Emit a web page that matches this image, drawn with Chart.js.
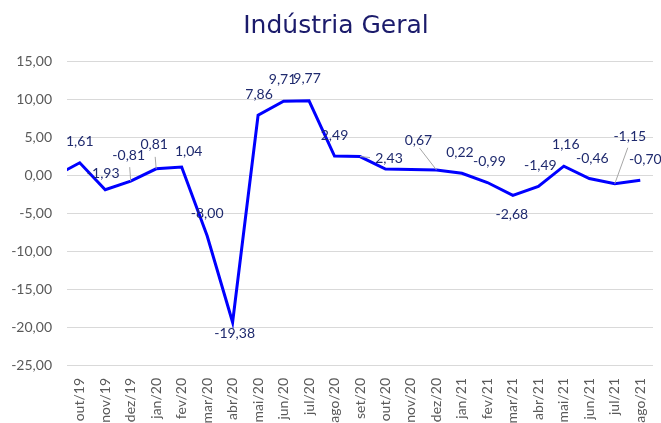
<!DOCTYPE html>
<html><head><meta charset="utf-8">
<script src="https://cdn.jsdelivr.net/npm/chart.js@4/dist/chart.umd.min.js"></script>
<style>html,body{margin:0;padding:0;background:#fff}#wrap{width:661px;height:423px}</style>
</head><body><div id="wrap"><canvas id="c" width="661" height="423"></canvas></div>
<script>
// Categories (first one lies just before the visible window, only its segment shows)
const categories = ['set/19','out/19','nov/19','dez/19','jan/20','fev/20','mar/20','abr/20','mai/20','jun/20','jul/20','ago/20','set/20','out/20','nov/20','dez/20','jan/21','fev/21','mar/21','abr/21','mai/21','jun/21','jul/21','ago/21'];
const values = [-0.20, 1.61, -1.93, -0.81, 0.81, 1.04, -8.00, -19.38, 7.86, 9.71, 9.77, 2.49, 2.43, 0.78, 0.72, 0.67, 0.22, -0.99, -2.68, -1.49, 1.16, -0.46, -1.15, -0.70];
const labelShown = [false,true,true,true,true,true,true,true,true,true,true,true,true,false,false,true,true,true,true,true,true,true,true,true];
const yTicks = [-25, -20, -15, -10, -5, 0, 5, 10, 15];
const titleText = 'Indústria Geral';

const fmt = v => v.toFixed(2).replace('.', ',');

// label placement relative to each point [dx, dy]
const labelOffsets = [[0,0],[0,-21],[-2,-16],[-2,-26],[-2,-24],[7,-16],[0,-22],[2,11],[1,-21],[-1,-22],[-2,-22],[0,-21],[29,2],[0,0],[0,0],[-18,-29],[-2,-21],[2,-21],[-1,19],[2,-21],[2,-22],[3,-20],[15,-47],[5,-21]];
// leader line end relative to point
const leaders = {3:[-1,-14], 4:[-1,-12], 12:[10,1], 15:[-17,-22], 22:[13,-36]};

const valueLabels = {
  id: 'valueLabels',
  afterDatasetsDraw(chart) {
    const meta = chart.getDatasetMeta(0);
    const ctx = chart.ctx;
    const area = chart.chartArea;
    ctx.save();
    ctx.font = '14px Lato';
    ctx.textAlign = 'center';
    ctx.textBaseline = 'middle';
    meta.data.forEach((pt, i) => {
      if (!labelShown[i]) return;
      if (pt.x < area.left - 1) return;
      const off = labelOffsets[i];
      const ld = leaders[i];
      if (ld) {
        ctx.strokeStyle = '#A6A6A6';
        ctx.lineWidth = 1;
        ctx.beginPath();
        ctx.moveTo(pt.x, pt.y);
        ctx.lineTo(pt.x + ld[0], pt.y + ld[1]);
        ctx.stroke();
      }
      ctx.fillStyle = '#1F2A6E';
      ctx.fillText(fmt(values[i]), pt.x + off[0], pt.y + off[1]);
    });
    ctx.restore();
  }
};

// Title drawn centred where the reference has it
const chartTitle = {
  id: 'chartTitle',
  afterDraw(chart) {
    const ctx = chart.ctx;
    ctx.save();
    ctx.font = '25px "DejaVu Sans"';
    ctx.fillStyle = '#1B1B6B';
    ctx.textAlign = 'center';
    ctx.textBaseline = 'alphabetic';
    ctx.fillText(titleText, 336, 33);
    ctx.restore();
  }
};

new Chart(document.getElementById('c'), {
  type: 'line',
  data: {
    labels: categories,
    datasets: [{
      data: values,
      borderColor: '#0000FF',
      backgroundColor: '#0000FF',
      borderWidth: 3,
      pointRadius: 0,
      tension: 0,
      fill: false
    }]
  },
  options: {
    responsive: false,
    animation: false,
    devicePixelRatio: 1,
    layout: { padding: { left: 0, right: 8, top: 61, bottom: 0 } },
    plugins: {
      legend: { display: false },
      tooltip: { enabled: false },
      title: { display: false }
    },
    scales: {
      x: {
        type: 'category',
        min: 'out/19',
        offset: true,
        grid: { display: false, drawTicks: false },
        border: { display: false },
        ticks: {
          minRotation: 90, maxRotation: 90, autoSkip: false,
          padding: 13,
          color: '#595959',
          font: { family: 'Lato', size: 14 }
        },
        afterFit(s) { s.height = 58; s.paddingLeft = 0; s.paddingRight = 0; }
      },
      y: {
        min: -25, max: 15,
        afterBuildTicks(s) { s.ticks = yTicks.map(v => ({ value: v })); },
        grid: { color: '#D9D9D9', lineWidth: 1, drawTicks: false },
        border: { display: false },
        ticks: {
          padding: 15,
          color: '#595959',
          font: { family: 'Lato', size: 14 },
          callback: v => fmt(v)
        },
        afterFit(s) { s.width = 67; s.paddingTop = 0; s.paddingBottom = 0; }
      }
    }
  },
  plugins: [valueLabels, chartTitle]
});
</script>
</body></html>
